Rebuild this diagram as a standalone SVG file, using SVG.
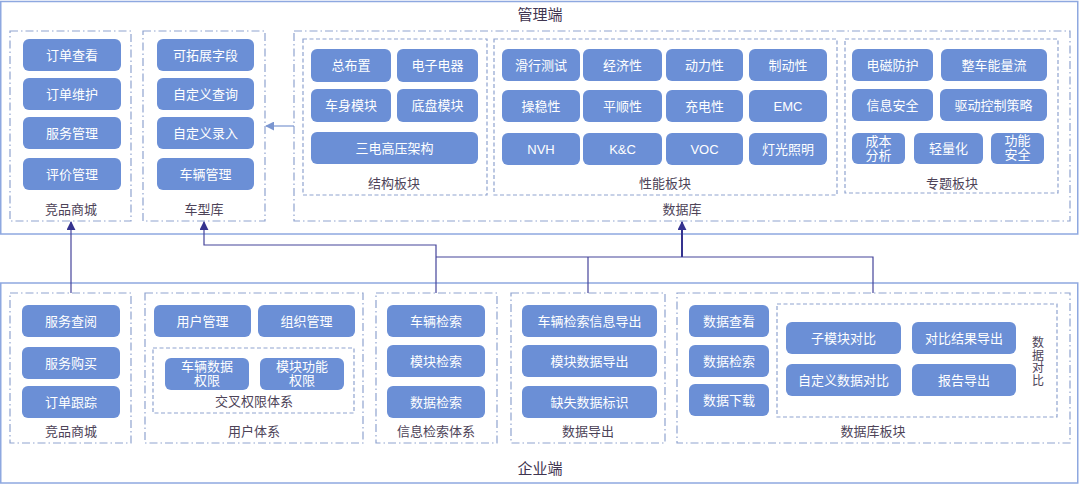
<svg xmlns="http://www.w3.org/2000/svg" width="1080" height="488" viewBox="0 0 1080 488">
<defs>
<style>
.outer{fill:none;stroke:#8ea8e0;stroke-width:1.5}
.grp{fill:none;stroke:#8fa3cf;stroke-width:1.2;stroke-dasharray:8 3 1.5 3}
.sub{fill:none;stroke:#8fa3cf;stroke-width:1.2;stroke-dasharray:4 2.5}
.btn rect{fill:#6b8fd6}
.btn text{fill:#ffffff;font-family:"Liberation Sans","Noto Sans CJK SC",sans-serif;font-size:13px;text-anchor:middle}
.lbl{fill:#4d4358;font-family:"Liberation Sans","Noto Sans CJK SC",sans-serif;font-size:13px;text-anchor:middle}
.vlbl{fill:#4d4358;font-family:"Liberation Sans","Noto Sans CJK SC",sans-serif;font-size:12px;text-anchor:middle}
.title{fill:#3f3550;font-family:"Liberation Sans","Noto Sans CJK SC",sans-serif;font-size:15px;text-anchor:middle}
.conn{fill:none;stroke:#45449a;stroke-width:1.2}
.connb{fill:none;stroke:#35338f;stroke-width:2}
.connl{fill:none;stroke:#7b96d0;stroke-width:1.2}
</style>
<marker id="ah" viewBox="0 0 10 10" refX="9" refY="5" markerWidth="9" markerHeight="9" markerUnits="userSpaceOnUse" orient="auto"><path d="M0,0 L10,5 L0,10 z" fill="#35338f"/></marker>
<marker id="ahl" viewBox="0 0 10 10" refX="9" refY="5" markerWidth="9" markerHeight="9" markerUnits="userSpaceOnUse" orient="auto"><path d="M0,0 L10,5 L0,10 z" fill="#7b96d0"/></marker>
</defs>
<rect width="1080" height="488" fill="#ffffff"/>

<g id="mgmt">
<rect class="outer" x="0.75" y="1.5" width="1077" height="232.5"/>
<text class="title" x="540" y="20">管理端</text>
</g>
<g id="ent">
<rect class="outer" x="0.75" y="283" width="1077" height="200"/>
<text class="title" x="540" y="474">企业端</text>
</g>

<g id="top-shop">
<rect class="grp" x="10" y="31" width="121" height="190"/>
<g class="btn"><rect x="23" y="39" width="98" height="32" rx="6"/><text x="72" y="59.5">订单查看</text></g>
<g class="btn"><rect x="23" y="78" width="98" height="32" rx="6"/><text x="72" y="98.5">订单维护</text></g>
<g class="btn"><rect x="23" y="117" width="98" height="32" rx="6"/><text x="72" y="137.5">服务管理</text></g>
<g class="btn"><rect x="23" y="158" width="98" height="32" rx="6"/><text x="72" y="178.5">评价管理</text></g>
<text class="lbl" x="71" y="214">竞品商城</text>
</g>

<g id="top-car">
<rect class="grp" x="143" y="31" width="122" height="190"/>
<g class="btn"><rect x="157" y="39" width="97" height="32" rx="6"/><text x="205.5" y="59.5">可拓展字段</text></g>
<g class="btn"><rect x="157" y="78" width="97" height="32" rx="6"/><text x="205.5" y="98.5">自定义查询</text></g>
<g class="btn"><rect x="157" y="117" width="97" height="32" rx="6"/><text x="205.5" y="137.5">自定义录入</text></g>
<g class="btn"><rect x="157" y="158" width="97" height="32" rx="6"/><text x="205.5" y="178.5">车辆管理</text></g>
<text class="lbl" x="204" y="214">车型库</text>
</g>

<g id="top-db">
<rect class="grp" x="294" y="31" width="776" height="190"/>
<text class="lbl" x="682" y="214">数据库</text>
</g>

<g id="struct">
<rect class="sub" x="303" y="39" width="184" height="156"/>
<g class="btn"><rect x="311" y="49" width="80" height="33" rx="6"/><text x="351" y="70">总布置</text></g>
<g class="btn"><rect x="397" y="49" width="81" height="33" rx="6"/><text x="437.5" y="70">电子电器</text></g>
<g class="btn"><rect x="311" y="89" width="80" height="33" rx="6"/><text x="351" y="110">车身模块</text></g>
<g class="btn"><rect x="397" y="89" width="81" height="33" rx="6"/><text x="437.5" y="110">底盘模块</text></g>
<g class="btn"><rect x="311" y="132" width="167" height="32" rx="6"/><text x="394.5" y="152.5">三电高压架构</text></g>
<text class="lbl" x="394" y="188">结构板块</text>
</g>

<g id="perf">
<rect class="sub" x="494" y="39" width="343" height="156"/>
<g class="btn"><rect x="502" y="49" width="78" height="32" rx="6"/><text x="541" y="69.5">滑行测试</text></g>
<g class="btn"><rect x="583" y="49" width="79" height="32" rx="6"/><text x="622.5" y="69.5">经济性</text></g>
<g class="btn"><rect x="666" y="49" width="77" height="32" rx="6"/><text x="704.5" y="69.5">动力性</text></g>
<g class="btn"><rect x="749" y="49" width="78" height="32" rx="6"/><text x="788" y="69.5">制动性</text></g>
<g class="btn"><rect x="502" y="90" width="78" height="32" rx="6"/><text x="541" y="110.5">操稳性</text></g>
<g class="btn"><rect x="583" y="90" width="79" height="32" rx="6"/><text x="622.5" y="110.5">平顺性</text></g>
<g class="btn"><rect x="666" y="90" width="77" height="32" rx="6"/><text x="704.5" y="110.5">充电性</text></g>
<g class="btn"><rect x="749" y="90" width="78" height="32" rx="6"/><text x="788" y="110.5">EMC</text></g>
<g class="btn"><rect x="502" y="133" width="78" height="32" rx="6"/><text x="541" y="153.5">NVH</text></g>
<g class="btn"><rect x="583" y="133" width="79" height="32" rx="6"/><text x="622.5" y="153.5">K&amp;C</text></g>
<g class="btn"><rect x="666" y="133" width="77" height="32" rx="6"/><text x="704.5" y="153.5">VOC</text></g>
<g class="btn"><rect x="749" y="133" width="78" height="32" rx="6"/><text x="788" y="153.5">灯光照明</text></g>
<text class="lbl" x="665" y="188">性能板块</text>
</g>

<g id="topic">
<rect class="sub" x="845" y="39" width="213" height="154"/>
<g class="btn"><rect x="852" y="49" width="81" height="32" rx="6"/><text x="892.5" y="69.5">电磁防护</text></g>
<g class="btn"><rect x="941" y="49" width="106" height="32" rx="6"/><text x="994" y="69.5">整车能量流</text></g>
<g class="btn"><rect x="852" y="89" width="81" height="32" rx="6"/><text x="892.5" y="109.5">信息安全</text></g>
<g class="btn"><rect x="940" y="89" width="107" height="32" rx="6"/><text x="993.5" y="109.5">驱动控制策略</text></g>
<g class="btn"><rect x="852" y="133" width="53" height="31" rx="6"/><text x="878.5" y="146">成本</text><text x="878.5" y="160">分析</text></g>
<g class="btn"><rect x="914" y="133" width="69" height="31" rx="6"/><text x="948.5" y="153">轻量化</text></g>
<g class="btn"><rect x="991" y="133" width="53" height="31" rx="6"/><text x="1017.5" y="145">功能</text><text x="1017.5" y="159">安全</text></g>
<text class="lbl" x="952" y="188">专题板块</text>
</g>

<g id="bot-shop">
<rect class="grp" x="10" y="293" width="121" height="150"/>
<g class="btn"><rect x="22" y="305" width="98" height="32" rx="6"/><text x="71" y="325.5">服务查阅</text></g>
<g class="btn"><rect x="22" y="347" width="98" height="32" rx="6"/><text x="71" y="367.5">服务购买</text></g>
<g class="btn"><rect x="22" y="386" width="98" height="32" rx="6"/><text x="71" y="406.5">订单跟踪</text></g>
<text class="lbl" x="71" y="436">竞品商城</text>
</g>

<g id="user">
<rect class="grp" x="145" y="293" width="218" height="150"/>
<g class="btn"><rect x="154" y="305" width="97" height="32" rx="6"/><text x="202.5" y="325.5">用户管理</text></g>
<g class="btn"><rect x="258" y="305" width="97" height="32" rx="6"/><text x="306.5" y="325.5">组织管理</text></g>
<rect class="sub" x="153" y="348" width="201" height="65"/>
<g class="btn"><rect x="165" y="358" width="84" height="32" rx="6"/><text x="207" y="371">车辆数据</text><text x="207" y="385">权限</text></g>
<g class="btn"><rect x="260" y="358" width="84" height="32" rx="6"/><text x="302" y="371">模块功能</text><text x="302" y="385">权限</text></g>
<text class="lbl" x="254" y="406">交叉权限体系</text>
<text class="lbl" x="254" y="436">用户体系</text>
</g>

<g id="search">
<rect class="grp" x="376" y="293" width="121" height="150"/>
<g class="btn"><rect x="387" y="305" width="98" height="32" rx="6"/><text x="436" y="325.5">车辆检索</text></g>
<g class="btn"><rect x="387" y="345" width="98" height="32" rx="6"/><text x="436" y="365.5">模块检索</text></g>
<g class="btn"><rect x="387" y="386" width="98" height="32" rx="6"/><text x="436" y="406.5">数据检索</text></g>
<text class="lbl" x="436" y="436">信息检索体系</text>
</g>

<g id="export">
<rect class="grp" x="511" y="293" width="154" height="150"/>
<g class="btn"><rect x="522" y="305" width="135" height="32" rx="6"/><text x="589.5" y="325.5">车辆检索信息导出</text></g>
<g class="btn"><rect x="522" y="345" width="135" height="32" rx="6"/><text x="589.5" y="365.5">模块数据导出</text></g>
<g class="btn"><rect x="522" y="386" width="135" height="32" rx="6"/><text x="589.5" y="406.5">缺失数据标识</text></g>
<text class="lbl" x="588" y="436">数据导出</text>
</g>

<g id="dbblock">
<rect class="grp" x="677" y="293" width="393" height="150"/>
<g class="btn"><rect x="689" y="305" width="80" height="32" rx="6"/><text x="729" y="325.5">数据查看</text></g>
<g class="btn"><rect x="689" y="345" width="80" height="32" rx="6"/><text x="729" y="365.5">数据检索</text></g>
<g class="btn"><rect x="689" y="384" width="80" height="32" rx="6"/><text x="729" y="404.5">数据下载</text></g>
<rect class="sub" x="777" y="304" width="280" height="113"/>
<g class="btn"><rect x="786" y="322" width="115" height="32" rx="6"/><text x="843.5" y="342.5">子模块对比</text></g>
<g class="btn"><rect x="912" y="322" width="104" height="32" rx="6"/><text x="964" y="342.5">对比结果导出</text></g>
<g class="btn"><rect x="786" y="364" width="115" height="32" rx="6"/><text x="843.5" y="384.5">自定义数据对比</text></g>
<g class="btn"><rect x="912" y="364" width="104" height="32" rx="6"/><text x="964" y="384.5">报告导出</text></g>
<text class="vlbl" x="1038" y="347">数</text>
<text class="vlbl" x="1038" y="359.5">据</text>
<text class="vlbl" x="1038" y="372">对</text>
<text class="vlbl" x="1038" y="384.5">比</text>
<text class="lbl" x="873" y="436">数据库板块</text>
</g>

<g id="connectors">
<path class="conn" d="M71,293 V222" marker-end="url(#ah)"/>
<path class="conn" d="M436,293 V245 H204 V222" marker-end="url(#ah)"/>
<path class="conn" d="M436,257 H873 V293"/>
<path class="conn" d="M588,257 V293"/>
<path class="connb" d="M682,257 V222" marker-end="url(#ah)"/>
<path class="connl" d="M294,126 H266" marker-end="url(#ahl)"/>
</g>
</svg>
